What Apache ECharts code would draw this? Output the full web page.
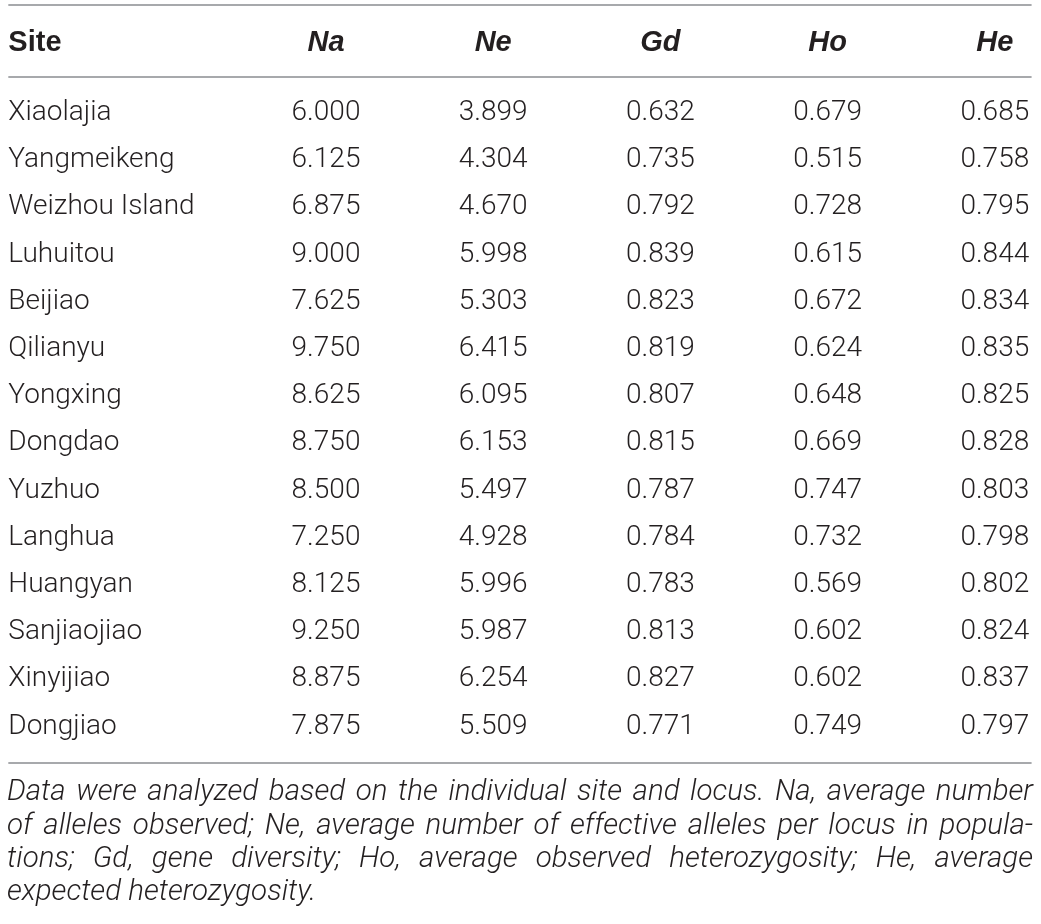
<!DOCTYPE html>
<html lang="en">
<head>
    <meta charset="utf-8">
    <title>Genetic diversity by site</title>
    <script src="https://cdn.jsdelivr.net/npm/echarts@6.0.0/dist/echarts.min.js"></script>
    <style>
        html, body { margin: 0; padding: 0; background: #fff; }
        #table-chart { width: 1041px; height: 924px; }
    </style>
</head>
<body>
<div id="table-chart"></div>
<script>
    // 表格数据
    var columns = ['Site', 'Na', 'Ne', 'Gd', 'Ho', 'He'];
    var sites = ['Xiaolajia', 'Yangmeikeng', 'Weizhou Island', 'Luhuitou', 'Beijiao', 'Qilianyu', 'Yongxing',
        'Dongdao', 'Yuzhuo', 'Langhua', 'Huangyan', 'Sanjiaojiao', 'Xinyijiao', 'Dongjiao'];
    var na = ['6.000', '6.125', '6.875', '9.000', '7.625', '9.750', '8.625', '8.750', '8.500', '7.250', '8.125', '9.250', '8.875', '7.875'];
    var ne = ['3.899', '4.304', '4.670', '5.998', '5.303', '6.415', '6.095', '6.153', '5.497', '4.928', '5.996', '5.987', '6.254', '5.509'];
    var gd = ['0.632', '0.735', '0.792', '0.839', '0.823', '0.819', '0.807', '0.815', '0.787', '0.784', '0.783', '0.813', '0.827', '0.771'];
    var ho = ['0.679', '0.515', '0.728', '0.615', '0.672', '0.624', '0.648', '0.669', '0.747', '0.732', '0.569', '0.602', '0.602', '0.749'];
    var he = ['0.685', '0.758', '0.795', '0.844', '0.834', '0.835', '0.825', '0.828', '0.803', '0.798', '0.802', '0.824', '0.837', '0.797'];
    var footnoteLines = [
        'Data were analyzed based on the individual site and locus. Na, average number',
        'of alleles observed; Ne, average number of effective alleles per locus in popula-',
        'tions; Gd, gene diversity; Ho, average observed heterozygosity; He, average',
        'expected heterozygosity.'
    ];

    var textColor = '#231f20';
    var ruleColor = '#a7a9ac';
    var bodyFont = 'Roboto';
    var headFont = 'Liberation Sans';
    var rowPitch = 47.2;   // 行距（像素）
    var firstRowY = 113;
    var yMin = -2.3, yMax = 14.5;
    var colPitch = 167.2;
    var firstNumX = 326;   // Na 列中心
    var xMin = -0.9, xMax = 5.22;

    // 单元格数据 [列, 行, 文本]
    var valueCols = [sites, na, ne, gd, ho, he];
    var cells = [];
    valueCols.forEach(function (col, c) {
        col.forEach(function (txt, r) {
            cells.push([c, r, txt]);
        });
    });
    var headerRow = (43 - firstRowY) / rowPitch;
    var headers = columns.map(function (name, c) { return [c, headerRow, name]; });
    var rules = [[(5 - firstRowY) / rowPitch], [(77 - firstRowY) / rowPitch], [(763 - firstRowY) / rowPitch]];

    var gridTop = firstRowY + yMin * rowPitch;
    var gridBottom = 924 - (firstRowY + yMax * rowPitch);
    var gridLeft = firstNumX + (xMin - 1) * colPitch;
    var gridRight = 1041 - (firstNumX + (xMax - 1) * colPitch);

    function textRender(isHeader) {
        return function (params, api) {
            var c = api.value(0);
            var p = api.coord([c, api.value(1)]);
            var site = c === 0;
            return {
                type: 'text',
                x: site ? params.coordSys.x : p[0],
                y: p[1],
                style: {
                    text: api.value(2),
                    fill: textColor,
                    font: isHeader
                        ? (site ? 'bold 29px "' + headFont + '"' : 'italic bold 29px "' + headFont + '"')
                        : '300 28px "' + bodyFont + '"',
                    textAlign: site ? 'left' : 'center',
                    textVerticalAlign: 'middle'
                }
            };
        };
    }

    // 脚注两端对齐
    var measureCtx = document.createElement('canvas').getContext('2d');
    var noteFont = 'italic 300 29.5px "' + bodyFont + '"';
    measureCtx.font = noteFont;
    var noteLeft = 7, noteRight = 1033;
    var noteY = [793, 827, 860, 893];
    var noteGraphics = [];
    footnoteLines.forEach(function (line, i) {
        var words = line.split(' ');
        var justify = i < footnoteLines.length - 1;
        var widths = words.map(function (w) { return measureCtx.measureText(w).width; });
        var total = widths.reduce(function (a, b) { return a + b; }, 0);
        var gap = justify ? (noteRight - noteLeft - total) / (words.length - 1) : measureCtx.measureText(' ').width;
        var x = noteLeft;
        words.forEach(function (w, k) {
            noteGraphics.push({
                type: 'text',
                x: x,
                y: noteY[i],
                style: { text: w, fill: textColor, font: noteFont, textVerticalAlign: 'middle' }
            });
            x += widths[k] + gap;
        });
    });

    var chart = echarts.init(document.getElementById('table-chart'));
    var option = {
        animation: false,
        backgroundColor: '#fff',
        grid: { left: gridLeft, right: gridRight, top: gridTop, bottom: gridBottom },
        xAxis: { type: 'value', min: xMin, max: xMax, show: false },
        yAxis: { type: 'value', min: yMin, max: yMax, inverse: true, show: false },
        graphic: noteGraphics,
        series: [
            {
                name: 'rules',
                type: 'custom',
                data: rules,
                encode: { y: 0 },
                renderItem: function (params, api) {
                    var y = api.coord([0, api.value(0)])[1];
                    return {
                        type: 'line',
                        shape: { x1: params.coordSys.x, y1: y, x2: params.coordSys.x + params.coordSys.width, y2: y },
                        style: { stroke: ruleColor, lineWidth: 2 }
                    };
                }
            },
            { name: 'header', type: 'custom', data: headers, renderItem: textRender(true) },
            { name: 'cells', type: 'custom', data: cells, renderItem: textRender(false) }
        ]
    };
    chart.setOption(option);
</script>
</body>
</html>
